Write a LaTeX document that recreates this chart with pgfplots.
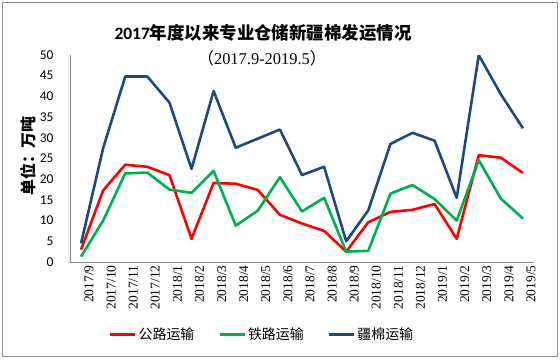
\documentclass[border=0pt]{standalone}
\usepackage{pgfplots}
\usepackage{pgfplotstable}
\pgfplotsset{compat=1.18}
\usepackage{fontspec}
\setmainfont{Liberation Serif}
\newfontfamily\cjk{Noto Sans CJK SC}
\newfontfamily\calibri{Carlito}
\definecolor{cred}{HTML}{FF0000}
\definecolor{cgreen}{HTML}{00B050}
\definecolor{cblue}{HTML}{1F497D}
\definecolor{cgray}{HTML}{868686}
\pgfplotstableread{
idx road rail total
0 3.0 1.3 4.5
1 17.3 10.0 27.5
2 23.5 21.4 44.8
3 23.0 21.6 44.8
4 21.0 17.5 38.5
5 5.6 16.7 22.5
6 19.1 22.0 41.3
7 18.9 8.8 27.6
8 17.4 12.4 29.8
9 11.4 20.5 32.0
10 9.3 12.2 21.0
11 7.5 15.5 23.0
12 2.5 2.5 5.0
13 9.6 2.7 12.5
14 12.1 16.5 28.5
15 12.6 18.6 31.2
16 14.0 15.2 29.3
17 5.6 10.0 15.5
18 25.8 24.6 50.0
19 25.2 15.3 40.5
20 21.5 10.5 32.3
}\datatable
\begin{document}
\begin{tikzpicture}
\begin{axis}[
  at={(70bp,97bp)}, anchor=south west,
  scale only axis, width=464bp, height=207bp,
  xmin=-0.5, xmax=20.5, ymin=0, ymax=50,
  ytick={0,5,...,50},
  xtick={0,...,20},
  xticklabels={2017/9,2017/10,2017/11,2017/12,2018/1,2018/2,2018/3,2018/4,2018/5,2018/6,2018/7,2018/8,2018/9,2018/10,2018/11,2018/12,2019/1,2019/2,2019/3,2019/4,2019/5},
  axis x line*=bottom, axis y line*=left,
  axis line style={-, draw=cgray, line width=0.8bp},
  major tick length=0pt,
  yticklabel style={font=\calibri\fontsize{13.5}{15}\selectfont, xshift=-13bp},
  xticklabel style={font=\rmfamily\fontsize{13.5}{15}\selectfont, rotate=90, anchor=east, yshift=-8bp},
  /pgf/number format/assume math mode=true,
  legend style={at={(0.414,-0.35)}, anchor=center, draw=none, fill=none,
    font=\cjk\fontsize{14}{16}\selectfont, legend columns=3,
    /tikz/every even column/.append style={column sep=22bp}},
  legend image code/.code={\draw[#1] (0bp,0bp) -- (25bp,0bp);},
  every axis plot/.append style={line width=2.6bp, line join=round},
]
\addplot[cred] table[x=idx, y=road] {\datatable};
\addlegendentry{公路运输}
\addplot[cgreen] table[x=idx, y=rail] {\datatable};
\addlegendentry{铁路运输}
\addplot[cblue] table[x=idx, y=total] {\datatable};
\addlegendentry{疆棉运输}
\end{axis}
\begin{scope}[x=1bp,y=1bp]
\path (0,0) rectangle (560,359);
\draw[color=cgray!90, line width=0.8bp] (2,3) rectangle (557,357);
\node[font=\cjk\bfseries\fontsize{17.5}{20}\selectfont] at (263,326) {{\calibri\bfseries 2017}年度以来专业仓储新疆棉发运情况};
\node[font=\cjk\fontsize{16.5}{18}\selectfont] at (262,301) {（{\rmfamily 2017.9-2019.5}）};
\node[rotate=90, font=\cjk\bfseries\fontsize{16}{18}\selectfont] at (28,203) {单位：万吨};
\end{scope}
\end{tikzpicture}
\end{document}
